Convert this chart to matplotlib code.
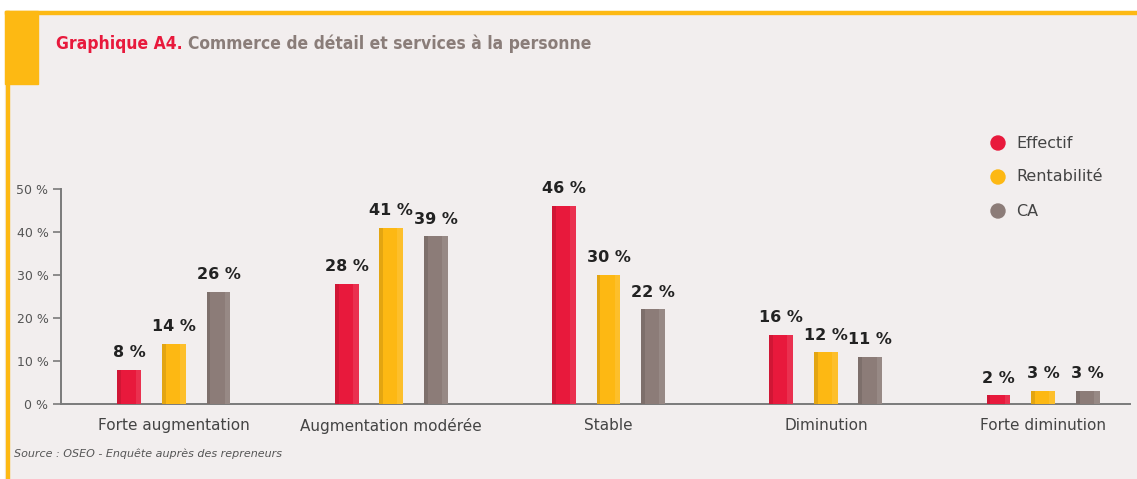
import numpy as np
import matplotlib
matplotlib.use("Agg")
import matplotlib.pyplot as plt
from matplotlib.patches import Rectangle, Ellipse

# --- Adatok ---
categories = ["Forte augmentation", "Augmentation modérée", "Stable", "Diminution", "Forte diminution"]
series_names = ["Effectif", "Rentabilité", "CA"]
effectif = [8, 28, 46, 16, 2]
rentabilite = [14, 41, 30, 12, 3]
ca = [26, 39, 22, 11, 3]
y_ticks = [0, 10, 20, 30, 40, 50]
y_tick_labels = ["0 %", "10 %", "20 %", "30 %", "40 %", "50 %"]

colors = ["#E8193C", "#FDB813", "#8C7C78"]
bg = "#F2EEEE"
yellow = "#FDB913"
W, H = 1137, 479

fig = plt.figure(figsize=(W / 100, H / 100), dpi=100, facecolor="white")

# --- Keret és háttér (pixelben) ---
def px_rect(x0, y0, x1, y1, color):
    fig.patches.append(Rectangle((x0 / W, 1 - y1 / H), (x1 - x0) / W, (y1 - y0) / H,
                                 transform=fig.transFigure, color=color, zorder=-10))

px_rect(5, 11, W, H, bg)
px_rect(5, 11, W, 14, yellow)
px_rect(6, 11, 9, H, yellow)
px_rect(5, 11, 38, 84, yellow)

t1 = fig.text(56 / W, 1 - 44 / H, "Graphique A4.", color="#E8193C", fontsize=12.5,
              fontweight="bold", fontstretch="condensed", va="center")
fig.canvas.draw()
bb = t1.get_window_extent()
fig.text((bb.x1 + 5) / W, 1 - 44 / H, "Commerce de détail et services à la personne", color="#8A7D79",
         fontsize=12.5, fontweight="bold", fontstretch="condensed", va="center")

# --- Tengely ---
ymax = 52
px_per = 4.3
ax_left, ax_bottom = 61, 404
ax_top = ax_bottom - ymax * px_per
ax = fig.add_axes([ax_left / W, 1 - ax_bottom / H, (1130 - ax_left) / W, (ax_bottom - ax_top) / H])
ax.set_facecolor("none")
ax.set_ylim(0, ymax)
ax.set_xlim(-0.52, 4.4)

x = np.arange(len(categories))
offset = 0.205
width = 0.11
for i, (vals, c) in enumerate(zip([effectif, rentabilite, ca], colors)):
    pos = x + (i - 1) * offset
    ax.bar(pos, vals, width=width, color=c, edgecolor="none", zorder=3)
    # enyhe árnyékolás a sávok szélén
    ax.bar(pos - width * 0.42, vals, width=width * 0.16, color="black", alpha=0.1, edgecolor="none", zorder=4)
    ax.bar(pos + width * 0.38, vals, width=width * 0.24, color="white", alpha=0.1, edgecolor="none", zorder=4)
    for xp, v in zip(pos, vals):
        ax.annotate(f"{v} %", (xp, v), xytext=(0, 7), textcoords="offset points",
                    ha="center", va="bottom", fontsize=11.5, fontweight="bold", color="#222222",
                    clip_on=False)

for s in ["top", "right"]:
    ax.spines[s].set_visible(False)
ax.spines["left"].set_bounds(0, 50)
ax.spines["left"].set_color("#7A7A7A")
ax.spines["bottom"].set_color("#7A7A7A")
ax.spines["left"].set_linewidth(1.4)
ax.spines["bottom"].set_linewidth(1.4)

ax.set_yticks(y_ticks)
ax.set_yticklabels(y_tick_labels, fontsize=9, color="#555555")
ax.tick_params(axis="y", length=6, width=1.2, color="#7A7A7A", pad=3)
ax.set_xticks(x)
ax.set_xticklabels(categories, fontsize=11, color="#444444")
ax.tick_params(axis="x", length=0, pad=10)

# --- Jelmagyarázat ---
for i, (name, c) in enumerate(zip(series_names, colors)):
    yy = 143 + i * 34
    fig.patches.append(Ellipse((998 / W, 1 - yy / H), 14 / W, 14 / H, transform=fig.transFigure,
                               color=c, zorder=5))
    fig.text(1016 / W, 1 - yy / H, name, fontsize=11.5, color="#444444", va="center")

fig.text(14 / W, 1 - 454 / H, "Source : OSEO - Enquête auprès des repreneurs", fontsize=8,
         style="italic", color="#555555", va="center")

fig.savefig("out.png", dpi=100, facecolor="white")
